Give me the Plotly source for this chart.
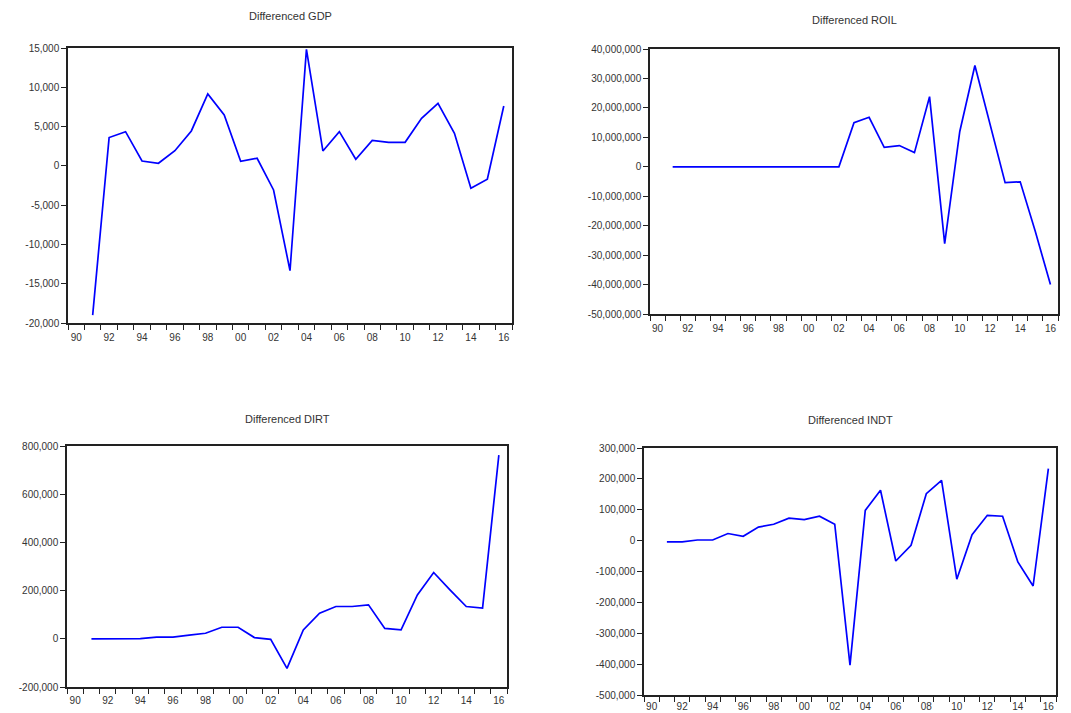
import plotly.graph_objects as go

years = list(range(1991, 2017))

gdp = [-19000, 3600, 4350, 620, 330, 1930, 4440, 9150, 6480, 580, 970, -3070, -13330,
       14830, 1900, 4350, 840, 3250, 3000, 3000, 6050, 7960, 4150, -2850, -1700, 7620]
roil = [0, 0, 0, 0, 0, 0, 0, 0, 0, 0, 0, 0, 15.0e6, 16.8e6, 6.6e6, 7.2e6, 4.8e6, 23.8e6,
        -26.1e6, 12.0e6, 34.4e6, 14.0e6, -5.4e6, -5.1e6, -22.0e6, -40.0e6]
dirt = [0, 0, 0, 1000, 6900, 7000, 15000, 23000, 48000, 48000, 5000, -2000, -123000,
        37000, 106000, 134000, 134000, 141000, 43000, 37000, 182000, 275000, 203000,
        134000, 127000, 762000]
indt = [-4000, -4000, 2000, 2000, 23000, 14000, 44000, 53000, 73000, 68000, 79000, 53000,
        -403000, 98000, 163000, -66000, -15000, 152000, 195000, -125000, 19000, 82000,
        79000, -69000, -147000, 233000]

titles = ["Differenced GDP", "Differenced ROIL", "Differenced DIRT", "Differenced INDT"]
series = [gdp, roil, dirt, indt]

x_tickvals = list(range(1990, 2017, 2))
x_ticktext = ["%02d" % (y % 100) for y in x_tickvals]

y_ticks = [
    list(range(-20000, 15001, 5000)),
    list(range(-50000000, 40000001, 10000000)),
    list(range(-200000, 800001, 200000)),
    list(range(-500000, 300001, 100000)),
]

W, H = 1071, 713
# panel boxes in pixels: left, right, top, bottom, title y, x-label standoff
boxes = [(68, 512, 48, 323, 16, 4), (650, 1058, 49, 314, 20, 4),
         (67, 507, 446, 687, 419, 3), (644, 1056, 448, 695, 420, 1)]

fig = go.Figure()
font = "Arial, Liberation Sans, sans-serif"
ann = []
for i, (vals, title, yt, box) in enumerate(zip(series, titles, y_ticks, boxes)):
    n = "" if i == 0 else str(i + 1)
    fig.add_trace(go.Scatter(x=years, y=vals, mode="lines",
                             line=dict(color="#0000ff", width=1.7),
                             xaxis="x" + n, yaxis="y" + n, showlegend=False))
    l, r, t, b, ty, so = box
    xd = [l / W, r / W]
    yd = [1 - b / H, 1 - t / H]
    fig.layout["xaxis" + n] = dict(
        domain=xd, anchor="y" + n, range=[1989.5, 2016.5], automargin=False,
        tickmode="array", tickvals=x_tickvals, ticktext=x_ticktext,
        ticks="", showgrid=False, zeroline=False, ticklabelstandoff=so,
        showline=True, mirror=True, linecolor="#222", linewidth=1.5,
        tickfont=dict(family=font, size=10, color="#333"),
        minor=dict(tickmode="linear", tick0=1989.5, dtick=1, ticks="outside",
                   ticklen=5, tickcolor="#222", tickwidth=1.2, showgrid=False),
    )
    fig.layout["yaxis" + n] = dict(
        domain=yd, anchor="x" + n, range=[yt[0], yt[-1]], automargin=False,
        tickmode="array", tickvals=yt, ticktext=["{:,}".format(v) for v in yt],
        ticks="outside", ticklen=5, tickcolor="#222", tickwidth=1.2,
        showgrid=False, zeroline=False,
        showline=True, mirror=True, linecolor="#222", linewidth=1.5,
        tickfont=dict(family=font, size=10, color="#333"),
    )
    ann.append(dict(text=title, x=(l + r) / 2 / W, y=1 - ty / H,
                    xref="paper", yref="paper", xanchor="center", yanchor="middle",
                    showarrow=False, font=dict(family=font, size=11, color="#333")))

fig.update_layout(width=W, height=H, margin=dict(l=0, r=0, t=0, b=0),
                  paper_bgcolor="white", plot_bgcolor="white", annotations=ann)
fig.write_html("out.html", config={"displayModeBar": False},
               post_script="document.body.style.margin='0';document.body.style.overflow='hidden';")
